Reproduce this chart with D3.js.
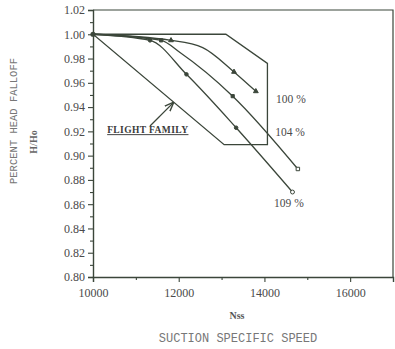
<!DOCTYPE html>
<html>
<head>
<meta charset="utf-8">
<script src="https://cdn.jsdelivr.net/npm/d3@7"></script>
<style>
  body { margin: 0; background: #fff; }
  svg { display: block; }
</style>
</head>
<body>
<svg id="chart" width="395" height="349"></svg>
<script>
// values
var xTicks = [10000, 12000, 14000, 16000];
var xMinor = [11000, 13000, 15000];
var yTicks = [0.80, 0.82, 0.84, 0.86, 0.88, 0.90, 0.92, 0.94, 0.96, 0.98, 1.00, 1.02];

// 100 % curve (triangles)
var nss100 = [10000, 11820, 12560, 13290, 13800];
var h100 = [1.000, 0.995, 0.989, 0.969, 0.953];
var marks100 = [1, 3, 4];

// 104 % curve (squares)
var nss104 = [10000, 11590, 12030, 13260, 14780];
var h104 = [1.000, 0.995, 0.985, 0.949, 0.889];
var marks104 = [1, 3, 4];

// 109 % curve (circles)
var nss109 = [10000, 11330, 12180, 13340, 14655];
var h109 = [1.000, 0.995, 0.967, 0.923, 0.870];
var marks109 = [1, 2, 3, 4];

// flight family envelope
var famNss = [10000, 13100, 14070, 14070, 13060];
var famH = [1.000, 1.000, 0.976, 0.909, 0.909];

var ink = "#3b463a";

var svg = d3.select("#chart");

var x = d3.scaleLinear().domain([10000, 17000]).range([93, 393]);
var y = d3.scaleLinear().domain([0.80, 1.02]).range([277, 10]);

// frame (top and right edges)
svg.append("path")
    .attr("d", "M" + x(10000) + "," + y(1.02) + "H" + x(17000) + "V" + y(0.80))
    .attr("fill", "none")
    .attr("stroke", ink)
    .attr("stroke-width", 1.2);

// y axis
svg.append("g")
    .attr("transform", "translate(" + x(10000) + ",0)")
    .call(d3.axisLeft(y).tickValues(yTicks).tickFormat(d3.format(".2f")).tickSize(5).tickPadding(3));
svg.append("g")
    .attr("transform", "translate(" + x(10000) + ",0)")
    .call(d3.axisLeft(y).tickValues(yTicks.slice(1).map(function(d) { return d - 0.01; })).tickSize(3).tickFormat(""))
    .select(".domain").remove();

// x axis
svg.append("g")
    .attr("transform", "translate(0," + y(0.80) + ")")
    .call(d3.axisBottom(x).tickValues(xTicks).tickFormat(d3.format("d")).tickSize(5).tickPadding(6));
svg.append("g")
    .attr("transform", "translate(0," + y(0.80) + ")")
    .call(d3.axisBottom(x).tickValues(xMinor).tickSize(3).tickFormat(""))
    .select(".domain").remove();

svg.selectAll(".domain").attr("stroke", ink).attr("stroke-width", 1.4);
svg.selectAll(".tick line").attr("stroke", ink).attr("stroke-width", 1.1);
svg.selectAll(".tick text")
    .attr("font-family", "Liberation Serif, serif")
    .attr("font-size", 12)
    .attr("fill", "#4a4a4a");

// flight family envelope
var famPts = famNss.map(function(d, i) { return [x(d), y(famH[i])]; });
svg.append("path")
    .attr("d", d3.line()(famPts) + "Z")
    .attr("fill", "none")
    .attr("stroke", ink)
    .attr("stroke-width", 1.3);

var line = d3.line()
    .x(function(d) { return x(d[0]); })
    .y(function(d) { return y(d[1]); })
    .curve(d3.curveMonotoneX);

var curves = [
    { nss: nss100, h: h100, marks: marks100, shape: d3.symbolTriangle },
    { nss: nss104, h: h104, marks: marks104, shape: d3.symbolSquare },
    { nss: nss109, h: h109, marks: marks109, shape: d3.symbolCircle }
];

curves.forEach(function(c) {
    var pts = c.nss.map(function(d, i) { return [d, c.h[i]]; });
    svg.append("path")
        .attr("d", line(pts))
        .attr("fill", "none")
        .attr("stroke", ink)
        .attr("stroke-width", 1.3);

    c.marks.forEach(function(i) {
        var last = i === c.nss.length - 1;
        var open = last && c.shape !== d3.symbolTriangle;
        svg.append("path")
            .attr("d", d3.symbol().type(c.shape).size(open ? 12 : 10)())
            .attr("transform", "translate(" + x(c.nss[i]) + "," + y(c.h[i]) + ")")
            .attr("fill", open ? "#fff" : ink)
            .attr("stroke", ink)
            .attr("stroke-width", 1);
    });
});

// common start point
svg.append("circle")
    .attr("cx", x(10000))
    .attr("cy", y(1.00))
    .attr("r", 2.6)
    .attr("fill", ink);

// curve labels
var labelNss = [14270, 14250, 14225];
var labelH = [0.943, 0.916, 0.858];
var labelText = ["100 %", "104 %", "109 %"];
labelText.forEach(function(t, i) {
    svg.append("text")
        .attr("x", x(labelNss[i]))
        .attr("y", y(labelH[i]))
        .attr("font-family", "Liberation Serif, serif")
        .attr("font-size", 11.5)
        .attr("fill", "#4a4a4a")
        .text(t);
});

// flight family annotation
svg.append("text")
    .attr("x", x(10330))
    .attr("y", y(0.9185))
    .attr("font-family", "Liberation Serif, serif")
    .attr("font-weight", "bold")
    .attr("font-size", 9.5)
    .attr("letter-spacing", 0.4)
    .attr("fill", "#3a3a3a")
    .attr("text-decoration", "underline")
    .text("FLIGHT FAMILY");

svg.append("defs").append("marker")
    .attr("id", "arrow")
    .attr("viewBox", "0 0 10 10")
    .attr("refX", 9).attr("refY", 5)
    .attr("markerWidth", 7).attr("markerHeight", 7)
    .attr("orient", "auto")
    .append("path")
    .attr("d", "M0,1L10,5L0,9")
    .attr("fill", "none")
    .attr("stroke", ink)
    .attr("stroke-width", 1.6);

svg.append("line")
    .attr("x1", x(11330)).attr("y1", y(0.9244))
    .attr("x2", x(11870)).attr("y2", y(0.9435))
    .attr("stroke", ink)
    .attr("stroke-width", 1.3)
    .attr("marker-end", "url(#arrow)");

// axis titles
svg.append("text")
    .attr("x", 237)
    .attr("y", 319)
    .attr("text-anchor", "middle")
    .attr("font-family", "Liberation Serif, serif")
    .attr("font-weight", "bold")
    .attr("font-size", 10)
    .attr("fill", "#555")
    .text("Nss");

svg.append("text")
    .attr("x", 238)
    .attr("y", 342)
    .attr("text-anchor", "middle")
    .attr("font-family", "Liberation Mono, monospace")
    .attr("font-size", 12)
    .attr("fill", "#777")
    .text("SUCTION SPECIFIC SPEED");

svg.append("text")
    .attr("transform", "translate(17,121) rotate(-90)")
    .attr("text-anchor", "middle")
    .attr("font-family", "Liberation Mono, monospace")
    .attr("font-size", 10.5)
    .attr("fill", "#777")
    .text("PERCENT HEAD FALLOFF");

svg.append("text")
    .attr("transform", "translate(37,142) rotate(-90)")
    .attr("text-anchor", "middle")
    .attr("font-family", "Liberation Serif, serif")
    .attr("font-weight", "bold")
    .attr("font-size", 10)
    .attr("fill", "#666")
    .text("H/Ho");
</script>
</body>
</html>
